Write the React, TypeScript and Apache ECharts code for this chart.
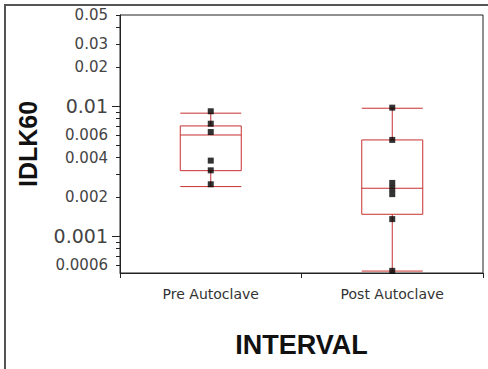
import React, { useEffect, useRef } from "react";
import * as echarts from "echarts";

const categories = ["Pre Autoclave", "Post Autoclave"];
// [min, Q1, median, Q3, max]
const preBox = [0.0024, 0.00318, 0.00598, 0.00702, 0.0088];
const postBox = [0.000538, 0.00147, 0.00233, 0.00548, 0.0096];
const prePoints = [0.0091, 0.0073, 0.0063, 0.0038, 0.0032, 0.0025];
const postPoints = [0.0097, 0.00548, 0.00256, 0.00232, 0.0021, 0.00135, 0.00054];
const labelValues = [0.0006, 0.001, 0.002, 0.004, 0.006, 0.01, 0.02, 0.03, 0.05];
const majorTicks = [0.001, 0.01];
const minorTicks = [
  0.0006, 0.0007, 0.0008, 0.0009, 0.002, 0.003, 0.004, 0.005, 0.006, 0.007,
  0.008, 0.009, 0.02, 0.03, 0.04, 0.05,
];
const axisMin = 0.00052;
const axisMax = 0.05;

const lg = (v: number) => Math.log10(v);

export default function App() {
  const ref = useRef<HTMLDivElement>(null);
  useEffect(() => {
    if (!ref.current) return;
    const chart = echarts.init(ref.current, null, { renderer: "svg" });
    const yMin = lg(axisMin);
    const yMax = lg(axisMax);
    const scatterData: number[][] = [];
    prePoints.forEach((v) => scatterData.push([0, lg(v)]));
    postPoints.forEach((v) => scatterData.push([1, lg(v)]));
    chart.setOption({
      animation: false,
      backgroundColor: "#fff",
      graphic: [
        {
          type: "rect",
          shape: { x: 5, y: 5, width: 700, height: 700 },
          style: { fill: "none", stroke: "#555", lineWidth: 2 },
          silent: true,
        },
      ],
      grid: {
        left: 120,
        top: 15,
        right: 5,
        bottom: 96,
        show: true,
        borderColor: "#222",
        borderWidth: 1,
        backgroundColor: "transparent",
      },
      xAxis: {
        type: "category",
        data: categories,
        boundaryGap: true,
        axisLine: { show: true, lineStyle: { color: "#222", width: 1 } },
        axisTick: { show: true, length: 5, lineStyle: { color: "#222" } },
        axisLabel: {
          margin: 14,
          fontFamily: "DejaVu Sans",
          fontSize: 14,
          color: "#333",
        },
        name: "INTERVAL",
        nameLocation: "middle",
        nameGap: 58,
        nameTextStyle: {
          fontFamily: "Arial",
          fontWeight: "bold",
          fontSize: 27,
          color: "#111",
        },
      },
      yAxis: [
        {
          type: "value",
          min: yMin,
          max: yMax,
          splitLine: { show: false },
          axisLine: { show: true, lineStyle: { color: "#222", width: 1 } },
          axisTick: {
            show: true,
            length: 4,
            customValues: minorTicks.map(lg),
            lineStyle: { color: "#222" },
          },
          axisLabel: {
            show: true,
            margin: 12,
            customValues: labelValues.map(lg),
            formatter: (v: number) => {
              const x = Number(Math.pow(10, v).toPrecision(1));
              const s = String(x);
              return majorTicks.indexOf(x) >= 0 ? `{big|${s}}` : `{sm|${s}}`;
            },
            rich: {
              big: { fontFamily: "DejaVu Sans", fontSize: 19, color: "#444" },
              sm: { fontFamily: "DejaVu Sans", fontSize: 15, color: "#444" },
            },
          },
          name: "IDLK60",
          nameLocation: "middle",
          nameRotate: 90,
          nameGap: 80,
          nameTextStyle: {
            fontFamily: "Arial",
            fontWeight: "bold",
            fontSize: 25,
            color: "#111",
          },
        },
        {
          type: "value",
          min: yMin,
          max: yMax,
          position: "left",
          splitLine: { show: false },
          axisLine: { show: false },
          axisLabel: { show: false },
          axisTick: {
            show: true,
            length: 8,
            customValues: majorTicks.map(lg),
            lineStyle: { color: "#222" },
          },
        },
      ],
      series: [
        {
          type: "boxplot",
          data: [preBox.map(lg), postBox.map(lg)],
          boxWidth: [61, 61],
          itemStyle: { color: "transparent", borderColor: "#c83030", borderWidth: 1 },
          z: 2,
        },
        {
          type: "scatter",
          data: scatterData,
          symbol: "rect",
          symbolSize: 6,
          itemStyle: { color: "#000" },
          z: 3,
        },
      ],
    });
    return () => chart.dispose();
  }, []);
  return (
    <div
      ref={ref}
      style={{ position: "fixed", left: 0, top: 0, width: 488, height: 369 }}
    />
  );
}
